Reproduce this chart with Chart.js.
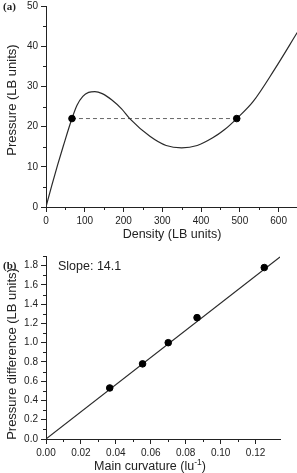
<!DOCTYPE html>
<html><head><meta charset="utf-8">
<script src="https://cdn.jsdelivr.net/npm/chart.js@4/dist/chart.umd.min.js"></script>
<style>
html,body{margin:0;padding:0;background:#fff;overflow:hidden;width:297px;height:473px;position:relative}
canvas{position:absolute;left:0}
</style></head><body>
<canvas id="ca" width="303" height="248" style="top:-3px"></canvas>
<canvas id="cb" width="297" height="226" style="top:247px"></canvas>
<script>
// ---- Panel (a): equation of state ----
const densityA = [0, 15, 30, 45, 67, 80, 95, 110, 126, 145, 170, 195, 216, 268, 310, 350, 390, 430, 460, 492, 534, 590, 648];
const pressureA = [0, 5.4, 10.5, 15.3, 22, 25.3, 27.5, 28.5, 28.7, 28.2, 26.6, 24.4, 22, 17.6, 15.3, 14.7, 15.3, 17.2, 19.2, 22, 26.2, 34.3, 43.4];
const coexDensity = [67, 492];
const coexPressure = [22, 22];
// ---- Panel (b): Laplace test ----
const curvatureB = [0.0365, 0.0553, 0.070, 0.0865, 0.125];
const pressureDiffB = [0.53, 0.78, 1.0, 1.26, 1.78];
const fitCurvature = [0, 0.134];
const fitPressure = [0, 1.89];
const slopeText = 'Slope: 14.1';

const FONT = "'Liberation Sans', Arial, Helvetica, sans-serif";
const INK = '#222';

function pts(xs, ys){ return xs.map((x,i)=>({x:x, y:ys[i]})); }

function isMajor(v, step){ const r = v/step; return Math.abs(r-Math.round(r)) < 1e-6; }

const minorTicks = {
  id:'minorTicks',
  afterDraw(chart){
    const ctx = chart.ctx;
    ctx.save();
    ctx.strokeStyle = INK; ctx.lineWidth = 1;
    for (const id of ['x','y']) {
      const s = chart.scales[id];
      const cfg = chart.options.plugins.minorTicks[id];
      s.ticks.forEach(t=>{
        if (isMajor(t.value, cfg.major) || !isMajor(t.value, cfg.minor)) return;
        const p = Math.round(s.getPixelForValue(t.value)) + 0.5;
        ctx.beginPath();
        if (id==='x'){ ctx.moveTo(p, s.top); ctx.lineTo(p, s.top+3); }
        else { ctx.moveTo(s.right, p); ctx.lineTo(s.right-3, p); }
        ctx.stroke();
      });
    }
    ctx.restore();
  }
};

const labels = {
  id:'labels',
  afterDraw(chart){
    const ctx = chart.ctx;
    const off = chart.options.plugins.labels.offset;
    ctx.save();
    ctx.fillStyle = INK;
    for (const L of chart.options.plugins.labels.items){
      ctx.save();
      ctx.font = L.font;
      ctx.textBaseline = 'middle';
      ctx.translate(L.x, L.y - off);
      if (L.rot) ctx.rotate(L.rot);
      if (L.sup){
        const wMain = ctx.measureText(L.text).width;
        ctx.font = L.supFont;
        const wSup = ctx.measureText(L.sup).width;
        ctx.font = L.font;
        const wEnd = ctx.measureText(L.end).width;
        let x0 = -(wMain+wSup+wEnd)/2;
        ctx.textAlign='left';
        ctx.fillText(L.text, x0, 0);
        ctx.font = L.supFont;
        ctx.fillText(L.sup, x0+wMain, -4);
        ctx.font = L.font;
        ctx.fillText(L.end, x0+wMain+wSup, 0);
      } else {
        ctx.textAlign = L.align || 'center';
        ctx.fillText(L.text, 0, 0);
      }
      ctx.restore();
    }
    ctx.restore();
  }
};

function axisOpts(min, max, step, majorStep, dec, fitFn){
  return {
    type:'linear', min:min, max:max,
    border:{display:true, color:INK, width:1},
    grid:{display:true, drawOnChartArea:false, tickLength:5,
      tickColor:(c)=> (c.tick && isMajor(c.tick.value, majorStep)) ? INK : 'rgba(0,0,0,0)'},
    ticks:{stepSize:step, padding:3, color:INK, font:{family:FONT, size:10}, autoSkip:false, maxRotation:0,
      callback:(v)=> isMajor(v, majorStep) ? (dec>0 ? Number(v).toFixed(dec) : String(Math.round(v))) : ''},
    afterFit: fitFn
  };
}

Chart.defaults.animation = false;

new Chart(document.getElementById('ca'), {
  type:'scatter',
  data:{datasets:[
    {data:pts(coexDensity, coexPressure), showLine:false, pointRadius:3.3, pointBackgroundColor:'#000', pointBorderColor:'#000', order:0},
    {data:pts(densityA, pressureA), showLine:true, pointRadius:0, borderColor:'#2a2a2a', borderWidth:1.2, cubicInterpolationMode:'monotone', order:1},
    {data:pts(coexDensity, coexPressure), showLine:true, pointRadius:0, borderColor:'#666', borderWidth:1, borderDash:[4,3], order:2}
  ]},
  options:{
    responsive:false, animation:false,
    layout:{padding:{top:0,left:0,right:0,bottom:0}},
    plugins:{legend:{display:false}, tooltip:{enabled:false},
      minorTicks:{x:{major:100, minor:50}, y:{major:10, minor:5}},
      labels:{offset:-3, items:[
        {text:'Pressure (LB units)', x:12, y:100, rot:-Math.PI/2, font:'13px '+FONT},
        {text:'Density (LB units)', x:172, y:235, font:'12.5px '+FONT},
        {text:'(a)', x:3, y:7, align:'left', font:"bold 11px 'Liberation Serif', 'Times New Roman', serif"}
      ]}
    },
    scales:{
      x: axisOpts(0, 650, 50, 100, 0, s=>{s.height = 38;}),
      y: axisOpts(0, 50, 5, 10, 0, s=>{s.width = 46;})
    }
  },
  plugins:[minorTicks, labels]
});

new Chart(document.getElementById('cb'), {
  type:'scatter',
  data:{datasets:[
    {data:pts(curvatureB, pressureDiffB), showLine:false, pointRadius:3.3, pointBackgroundColor:'#000', pointBorderColor:'#000', order:0},
    {data:pts(fitCurvature, fitPressure), showLine:true, pointRadius:0, borderColor:'#2a2a2a', borderWidth:1.1, order:1}
  ]},
  options:{
    responsive:false, animation:false,
    layout:{padding:{top:0,left:0,right:17,bottom:0}},
    plugins:{legend:{display:false}, tooltip:{enabled:false},
      minorTicks:{x:{major:0.02, minor:0.01}, y:{major:0.2, minor:0.1}},
      labels:{offset:247, items:[
        {text:'Pressure difference (LB units)', x:12, y:354, rot:-Math.PI/2, font:'13px '+FONT},
        {text:'Main curvature (lu', sup:'-1', end:')', x:150, y:467, font:'12.5px '+FONT, supFont:'8.5px '+FONT},
        {text:'(b)', x:3, y:266, align:'left', font:"bold 11px 'Liberation Serif', 'Times New Roman', serif"},
        {text:slopeText, x:58, y:267, align:'left', font:'12.5px '+FONT}
      ]}
    },
    scales:{
      x: axisOpts(0, 0.134, 0.01, 0.02, 2, s=>{s.height = 34;}),
      y: axisOpts(0, 1.9, 0.1, 0.2, 1, s=>{s.width = 46;})
    }
  },
  plugins:[minorTicks, labels]
});
</script>
</body></html>
